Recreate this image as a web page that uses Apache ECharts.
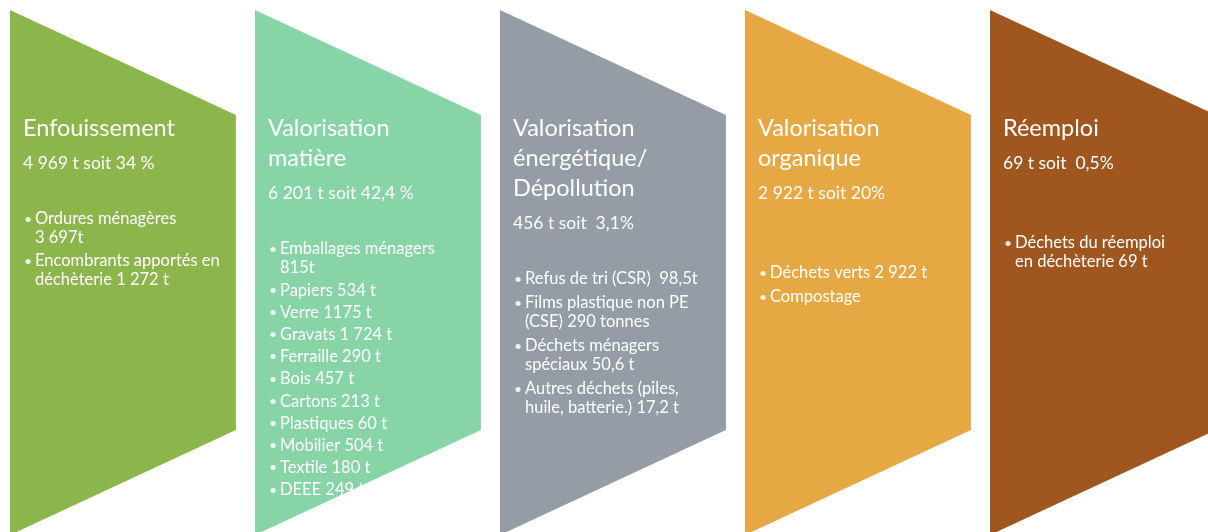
<!DOCTYPE html>
<html>
<head>
<meta charset="utf-8">
<script src="https://cdn.jsdelivr.net/npm/echarts@6/dist/echarts.min.js"></script>
<style>
html, body { margin: 0; background: #ffffff; overflow: hidden; }
#main { width: 1235px; height: 540px; }
</style>
</head>
<body>
<div id="main"></div>
<script>
// chevron titles (one per category)
var categories = ['Enfouissement', 'Valorisation\nmatière', 'Valorisation\nénergétique/\nDépollution', 'Valorisation\norganique', 'Réemploi']
var totals = ['4 969 t soit 34 %', '6 201 t soit 42,4 %', '456 t soit  3,1%', '2 922 t soit 20%', '69 t soit  0,5%']
var details = [
  ['Ordures ménagères\n3 697t', 'Encombrants apportés en\ndéchèterie 1 272 t'],
  ['Emballages ménagers\n815t', 'Papiers 534 t', 'Verre 1175 t', 'Gravats 1 724 t', 'Ferraille 290 t', 'Bois 457 t', 'Cartons 213 t', 'Plastiques 60 t', 'Mobilier 504 t', 'Textile 180 t', 'DEEE 249 t'],
  ['Refus de tri (CSR)  98,5t', 'Films plastique non PE\n(CSE) 290 tonnes', 'Déchets ménagers\nspéciaux 50,6 t', 'Autres déchets (piles,\nhuile, batterie.) 17,2 t'],
  ['Déchets verts 2 922 t', 'Compostage'],
  ['Déchets du réemploi\nen déchèterie 69 t']
]
var colors = ['#8cb54b', '#87d4a7', '#949da5', '#e6a843', '#a0561f']
// blank lines left before the bullet list in the original slide
var blankLines = [0, 0, 0, 1, 1]
// spacing between bullets (the slide shrinks it in the long list)
var bulletGap = [23, 22.2, 24, 24, 23]

var FONT = 'Lato'

function renderChevron (params, api) {
  var i = api.value(0)
  var band = api.size([1, 0])[0]
  var top = api.coord([i, 100])
  var tipTop = api.coord([i, 80])
  var tipBot = api.coord([i, 20])
  var bot = api.coord([i, 0])
  var x0 = top[0] - band / 2
  var x1 = x0 + band * 0.922
  var children = [{
    type: 'polygon',
    shape: { points: [[x0, top[1]], [x1, tipTop[1]], [x1, tipBot[1]], [x0, bot[1]]] },
    style: { fill: colors[i] }
  }]
  var y = top[1] + 118
  var titleLines = categories[i].split('\n')
  titleLines.forEach(function (line, k) {
    if (k > 0) y += 30
    children.push({
      type: 'text',
      style: { text: line, x: x0 + 13, y: y, fill: '#fff', font: '23.5px ' + FONT, verticalAlign: 'middle' }
    })
  })
  y += 35
  children.push({
    type: 'text',
    style: { text: totals[i], x: x0 + 13, y: y, fill: '#fff', font: '17.5px ' + FONT, verticalAlign: 'middle' }
  })
  y += 56 + blankLines[i] * 24
  details[i].forEach(function (item, b) {
    if (b > 0) y += bulletGap[i]
    children.push({
      type: 'text',
      style: { text: '•', x: x0 + 14, y: y, fill: 'rgba(255,255,255,0.85)', font: '14px ' + FONT, verticalAlign: 'middle' }
    })
    item.split('\n').forEach(function (line, k) {
      if (k > 0) y += 19
      children.push({
        type: 'text',
        style: { text: line, x: x0 + 25, y: y, fill: '#fff', font: '16.5px ' + FONT, verticalAlign: 'middle' }
      })
    })
  })
  return { type: 'group', children: children }
}

var chart = echarts.init(document.getElementById('main'))
chart.setOption({
  animation: false,
  grid: { left: 10, right: 0, top: 10, bottom: 5 },
  xAxis: { type: 'category', data: categories, show: false, boundaryGap: true },
  yAxis: { type: 'value', min: 0, max: 100, show: false },
  series: [{
    type: 'custom',
    renderItem: renderChevron,
    encode: { x: 0 },
    data: categories.map(function (c, i) { return [i] }),
    clip: false
  }]
})
</script>
</body>
</html>
